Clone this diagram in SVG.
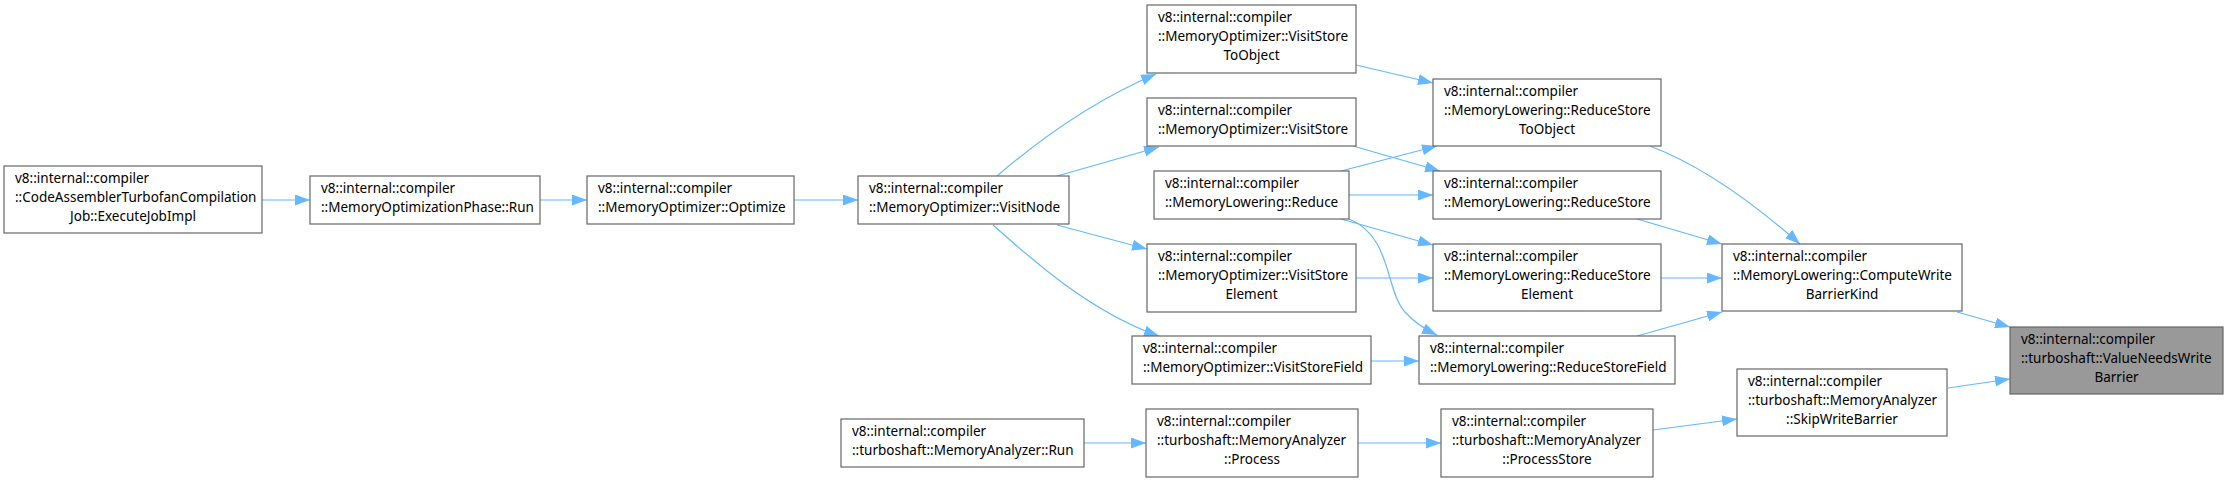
<svg xmlns="http://www.w3.org/2000/svg" width="2227" height="482" viewBox="0 0 2227 482">
<defs>
<marker id="ah" viewBox="0 0 15 11" refX="15" refY="5.5" markerWidth="15" markerHeight="11" markerUnits="userSpaceOnUse" orient="auto">
<path d="M0,0 L15,5.5 L0,11 z" fill="#63b8ff"/>
</marker>
</defs>
<style>
.n rect{fill:#ffffff;stroke:#666666;stroke-width:1.2}
.n.hl rect{fill:#999999;stroke:#666666}
.n text{font-family:"Noto Sans","DejaVu Sans",sans-serif;font-size:13.5px;fill:#000000}
.c{text-anchor:middle}
#edges path{fill:none;stroke:#63b8ff;stroke-width:1.2;marker-end:url(#ah)}
</style>
<rect width="2227" height="482" fill="#ffffff"/>
<g id="edges">
<path d="M262,200 L310,200"/>
<path d="M540,200 L587,200"/>
<path d="M794,200 L858,200"/>
<path d="M997,176 C1032,146 1090,102 1156,74"/>
<path d="M1057,176 L1159,147"/>
<path d="M1057,225 L1147,249"/>
<path d="M993,225 C1030,258 1090,312 1159,336"/>
<path d="M1356,65 L1433,83"/>
<path d="M1353,146 L1440,171"/>
<path d="M1341,171 L1437,146"/>
<path d="M1349,195 L1433,195"/>
<path d="M1341,219 L1433,245"/>
<path d="M1349,219 C1392,236 1385,290 1405,312 C1414,322 1424,329 1437,335"/>
<path d="M1356,278 L1433,278"/>
<path d="M1371,361 L1419,361"/>
<path d="M1650,146 C1700,165 1750,200 1800,244"/>
<path d="M1637,219 L1722,244"/>
<path d="M1661,278 L1722,278"/>
<path d="M1637,336 L1722,312"/>
<path d="M1957,312 L2010,327"/>
<path d="M1948,388 L2010,379"/>
<path d="M1084,443 L1146,443"/>
<path d="M1358,443 L1441,443"/>
<path d="M1653,430 L1737,419"/>
</g>
<g id="n1" class="n"><rect x="4" y="166" width="258" height="67"/><text x="15" y="182.5">v8::internal::compiler</text><text x="15" y="201.5">::CodeAssemblerTurbofanCompilation</text><text class="c" x="133" y="220.5">Job::ExecuteJobImpl</text></g>
<g id="n2" class="n"><rect x="310" y="176" width="230" height="48"/><text x="321" y="192.5">v8::internal::compiler</text><text x="321" y="211.5">::MemoryOptimizationPhase::Run</text></g>
<g id="n3" class="n"><rect x="587" y="176" width="207" height="48"/><text x="598" y="192.5">v8::internal::compiler</text><text x="598" y="211.5">::MemoryOptimizer::Optimize</text></g>
<g id="n4" class="n"><rect x="858" y="176" width="211" height="48"/><text x="869" y="192.5">v8::internal::compiler</text><text x="869" y="211.5">::MemoryOptimizer::VisitNode</text></g>
<g id="n5" class="n"><rect x="1147" y="5" width="209" height="68"/><text x="1158" y="21.5">v8::internal::compiler</text><text x="1158" y="40.5">::MemoryOptimizer::VisitStore</text><text class="c" x="1251.5" y="59.5">ToObject</text></g>
<g id="n6" class="n"><rect x="1147" y="98" width="209" height="48"/><text x="1158" y="114.5">v8::internal::compiler</text><text x="1158" y="133.5">::MemoryOptimizer::VisitStore</text></g>
<g id="n7" class="n"><rect x="1154" y="171" width="195" height="48"/><text x="1165" y="187.5">v8::internal::compiler</text><text x="1165" y="206.5">::MemoryLowering::Reduce</text></g>
<g id="n8" class="n"><rect x="1147" y="244" width="209" height="68"/><text x="1158" y="260.5">v8::internal::compiler</text><text x="1158" y="279.5">::MemoryOptimizer::VisitStore</text><text class="c" x="1251.5" y="298.5">Element</text></g>
<g id="n9" class="n"><rect x="1132" y="336" width="239" height="48"/><text x="1143" y="352.5">v8::internal::compiler</text><text x="1143" y="371.5">::MemoryOptimizer::VisitStoreField</text></g>
<g id="n10" class="n"><rect x="1433" y="79" width="228" height="67"/><text x="1444" y="95.5">v8::internal::compiler</text><text x="1444" y="114.5">::MemoryLowering::ReduceStore</text><text class="c" x="1547" y="133.5">ToObject</text></g>
<g id="n11" class="n"><rect x="1433" y="171" width="228" height="48"/><text x="1444" y="187.5">v8::internal::compiler</text><text x="1444" y="206.5">::MemoryLowering::ReduceStore</text></g>
<g id="n12" class="n"><rect x="1433" y="244" width="228" height="67"/><text x="1444" y="260.5">v8::internal::compiler</text><text x="1444" y="279.5">::MemoryLowering::ReduceStore</text><text class="c" x="1547" y="298.5">Element</text></g>
<g id="n13" class="n"><rect x="1419" y="336" width="256" height="48"/><text x="1430" y="352.5">v8::internal::compiler</text><text x="1430" y="371.5">::MemoryLowering::ReduceStoreField</text></g>
<g id="n14" class="n"><rect x="1722" y="244" width="240" height="67"/><text x="1733" y="260.5">v8::internal::compiler</text><text x="1733" y="279.5">::MemoryLowering::ComputeWrite</text><text class="c" x="1842" y="298.5">BarrierKind</text></g>
<g id="n15" class="n hl"><rect x="2010" y="327" width="213" height="67"/><text x="2021" y="343.5">v8::internal::compiler</text><text x="2021" y="362.5">::turboshaft::ValueNeedsWrite</text><text class="c" x="2116.5" y="381.5">Barrier</text></g>
<g id="n16" class="n"><rect x="1737" y="369" width="210" height="67"/><text x="1748" y="385.5">v8::internal::compiler</text><text x="1748" y="404.5">::turboshaft::MemoryAnalyzer</text><text class="c" x="1842" y="423.5">::SkipWriteBarrier</text></g>
<g id="n17" class="n"><rect x="841" y="419" width="243" height="48"/><text x="852" y="435.5">v8::internal::compiler</text><text x="852" y="454.5">::turboshaft::MemoryAnalyzer::Run</text></g>
<g id="n18" class="n"><rect x="1146" y="409" width="212" height="68"/><text x="1157" y="425.5">v8::internal::compiler</text><text x="1157" y="444.5">::turboshaft::MemoryAnalyzer</text><text class="c" x="1252" y="463.5">::Process</text></g>
<g id="n19" class="n"><rect x="1441" y="409" width="212" height="68"/><text x="1452" y="425.5">v8::internal::compiler</text><text x="1452" y="444.5">::turboshaft::MemoryAnalyzer</text><text class="c" x="1547" y="463.5">::ProcessStore</text></g>
</svg>
